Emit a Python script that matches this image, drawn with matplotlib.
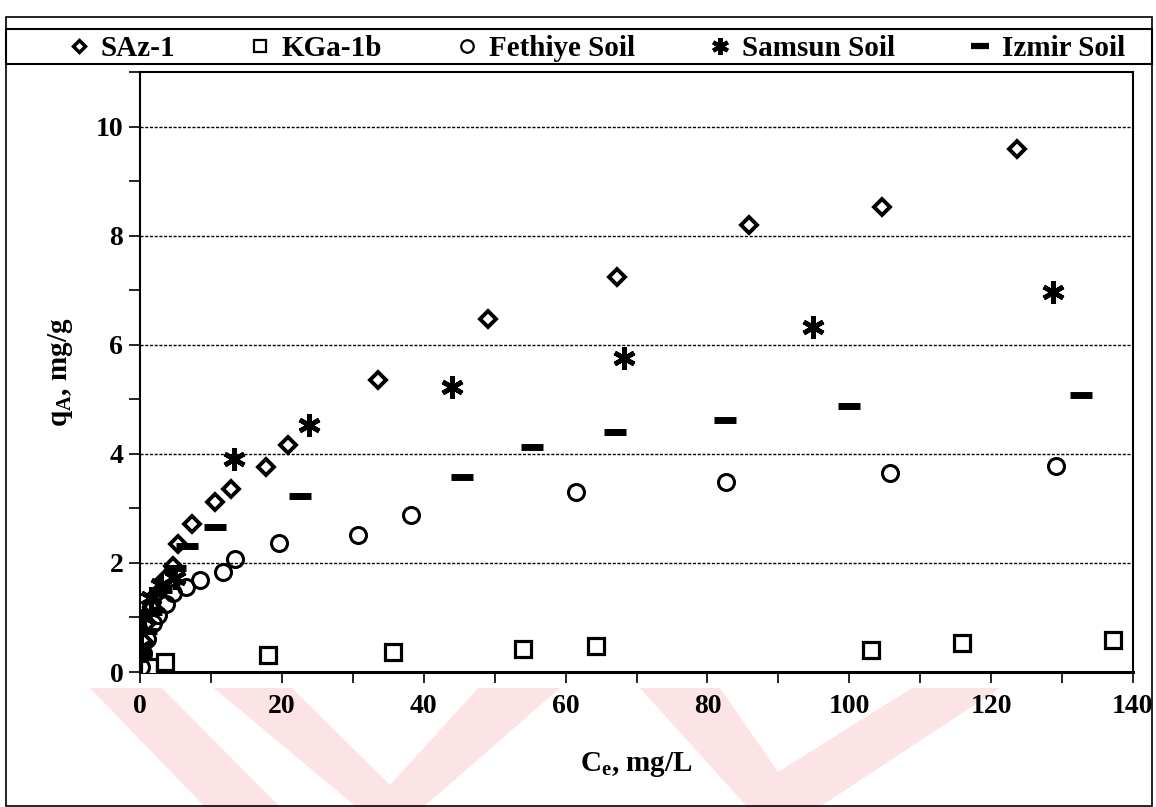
import matplotlib
matplotlib.use("Agg")
import matplotlib.pyplot as plt
from matplotlib.lines import Line2D
from matplotlib.patches import Rectangle, Polygon
from matplotlib.ticker import MultipleLocator

plt.rcParams['font.family'] = ['Liberation Serif', 'DejaVu Serif']
plt.rcParams['font.weight'] = 'bold'
plt.rcParams['mathtext.fontset'] = 'custom'
plt.rcParams['mathtext.rm'] = 'Liberation Serif:bold'
plt.rcParams['mathtext.it'] = 'Liberation Serif:bold'
plt.rcParams['mathtext.bf'] = 'Liberation Serif:bold'

# adsorption isotherm data, Ce (mg/L) vs qA (mg/g)
saz_x = [0.2, 0.5, 1.0, 1.7, 2.5, 3.5, 4.6, 5.3, 7.3, 10.6, 12.9, 17.8, 20.8,
         33.6, 49.0, 67.2, 85.8, 104.6, 123.6]
saz_y = [0.25, 0.55, 0.9, 1.2, 1.45, 1.7, 1.95, 2.35, 2.71, 3.12, 3.35, 3.76,
         4.16, 5.35, 6.48, 7.24, 8.19, 8.53, 9.59]

kga_x = [0.1, 0.5, 1.2, 3.5, 18.1, 35.6, 54.0, 64.3, 103.1, 115.9, 137.2]
kga_y = [0.02, 0.05, 0.1, 0.19, 0.31, 0.37, 0.43, 0.48, 0.40, 0.53, 0.59]

fet_x = [0.1, 0.4, 1.0, 1.8, 2.6, 3.6, 4.7, 6.5, 8.5, 11.7, 13.4, 19.6, 30.7,
         38.2, 61.4, 82.6, 105.7, 129.2]
fet_y = [0.1, 0.35, 0.6, 0.9, 1.05, 1.25, 1.44, 1.55, 1.68, 1.84, 2.08, 2.36,
         2.52, 2.88, 3.30, 3.49, 3.65, 3.78]

sam_x = [0.1, 0.5, 1.5, 3.0, 4.9, 13.2, 23.8, 44.0, 68.2, 94.9, 128.7]
sam_y = [0.45, 1.0, 1.35, 1.6, 1.72, 3.90, 4.52, 5.22, 5.75, 6.32, 6.96]

izm_x = [0.2, 0.8, 1.6, 3.0, 5.0, 6.6, 10.6, 22.6, 45.4, 55.2, 66.9, 82.5,
         99.9, 132.7]
izm_y = [0.3, 0.75, 1.1, 1.5, 1.9, 2.31, 2.65, 3.23, 3.57, 4.13, 4.40, 4.62,
         4.87, 5.07]

labels = ["SAz-1", "KGa-1b", "Fethiye Soil", "Samsun Soil", "Izmir Soil"]

W, H = 1156, 807
fig = plt.figure(figsize=(W / 100, H / 100), dpi=100)


def px(x, y):
    # pixel position (from top-left) -> figure fraction
    return (x / W, 1 - y / H)


# faint pink watermark at the bottom of the page
pink = '#fce3e6'
wm_shapes = [
    [(90, 688), (162, 688), (280, 807), (205, 807)],
    [(214, 688), (292, 688), (390, 785), (478, 688), (560, 688), (420, 810), (360, 810)],
    [(640, 688), (720, 688), (778, 772), (912, 688), (1000, 688), (815, 810), (750, 810)],
]
for pts in wm_shapes:
    fig.patches.append(Polygon([px(*p) for p in pts], closed=True, transform=fig.transFigure,
                               fc=pink, ec='none', zorder=-5))

ax = fig.add_axes([140 / W, 1 - 672 / H, (1133 - 140) / W, (672 - 72) / H])

ax.plot(saz_x, saz_y, ls='none', marker='D', ms=8.5, mfc='white', mec='black', mew=2.8, zorder=3)
ax.plot(kga_x, kga_y, ls='none', marker='s', ms=11, mfc='white', mec='black', mew=2.3, zorder=3)
ax.plot(fet_x, fet_y, ls='none', marker='o', ms=11.5, mfc='none', mec='black', mew=2.2, zorder=3)
ax.plot(sam_x, sam_y, ls='none', marker=(6, 2, 0), ms=16, mec='black', mew=3.4, zorder=3)
ax.plot(izm_x, izm_y, ls='none', marker='_', ms=16.5, mec='black', mew=5, zorder=3)

ax.set_xlim(0, 140)
ax.set_ylim(0, 11)
ax.xaxis.set_major_locator(MultipleLocator(20))
ax.xaxis.set_minor_locator(MultipleLocator(10))
ax.yaxis.set_major_locator(MultipleLocator(2))
ax.yaxis.set_minor_locator(MultipleLocator(1))
ax.tick_params(which='both', direction='out', length=8, width=1.2, labelsize=20)
ax.tick_params(axis='x', pad=8)
ax.tick_params(axis='y', pad=4)
for lab in ax.get_xticklabels() + ax.get_yticklabels():
    lab.set_fontweight('bold')

ax.grid(axis='y', which='major', color='black', ls=(0, (2.2, 1.2)), lw=1.0)
for s in ax.spines.values():
    s.set_linewidth(1.5)
ax.spines['bottom'].set_linewidth(2.2)

ax.set_xlabel(r'C$_{\rm e}$, mg/L', fontsize=21, fontweight='bold', labelpad=22)
ax.set_ylabel(r'q$_{\rm A}$, mg/g', fontsize=21, fontweight='bold', labelpad=15)

handles = [
    Line2D([], [], ls='none', marker='D', ms=6, mfc='white', mec='black', mew=2.5),
    Line2D([], [], ls='none', marker='s', ms=9, mfc='white', mec='black', mew=1.6),
    Line2D([], [], ls='none', marker='o', ms=9, mfc='none', mec='black', mew=1.6),
    Line2D([], [], ls='none', marker=(6, 2, 0), ms=12, mec='black', mew=3),
    Line2D([], [], ls='none', marker='_', ms=13, mec='black', mew=4.5),
]
lx0, ly = px(67, 49)
lx1 = 1125 / W
fig.legend(handles, labels, loc='center left', bbox_to_anchor=(lx0, ly, lx1 - lx0, 0),
           mode='expand', ncol=5, frameon=False, borderaxespad=0, borderpad=0,
           handlelength=0.8, handletextpad=0.35,
           prop={'family': 'Liberation Serif', 'weight': 'bold', 'size': 21})

# outer page frame and the legend box
fx0, fy1 = px(6, 17)
fx1, fy0 = px(1152, 806)
fig.patches.append(Rectangle((fx0, fy0), fx1 - fx0, fy1 - fy0, transform=fig.transFigure,
                             fill=False, ec='black', lw=1.2))
_, lb0 = px(0, 64)
_, lb1 = px(0, 29)
fig.patches.append(Rectangle((fx0, lb0), fx1 - fx0, lb1 - lb0, transform=fig.transFigure,
                             fill=False, ec='black', lw=1.5))

fig.savefig("out.png", dpi=100)
